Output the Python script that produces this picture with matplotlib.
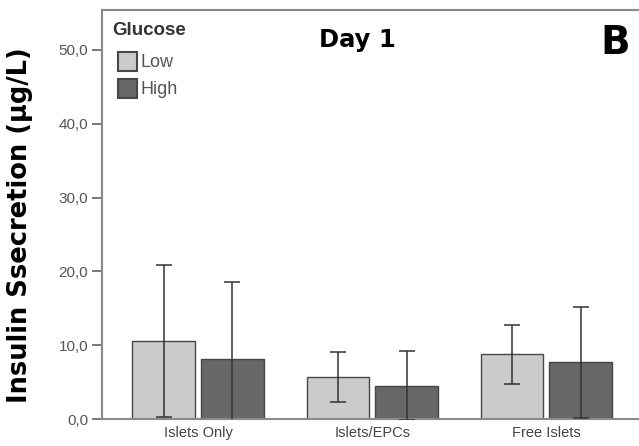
import numpy as np
import matplotlib
matplotlib.use("Agg")
import matplotlib.pyplot as plt
from matplotlib.patches import Rectangle

# data
groups = ["Islets Only", "Islets/EPCs", "Free Islets"]
low_mean = [10.6, 5.7, 8.8]
low_err = [10.3, 3.4, 4.0]
high_mean = [8.1, 4.5, 7.7]
high_err = [10.5, 4.7, 7.5]
yticks = [0, 10, 20, 30, 40, 50]
ytick_labels = ["0,0", "10,0", "20,0", "30,0", "40,0", "50,0"]
legend_labels = ["Low", "High"]

plt.rcParams['font.family'] = ['Liberation Sans', 'DejaVu Sans']

low_col = "#cbcbcb"
high_col = "#676767"
edge_col = "#474747"

fig = plt.figure(figsize=(6.39, 4.46), dpi=100)
ax = fig.add_axes([0.16, 0.0605, 0.845, 0.917])

x = np.arange(len(groups))
w = 0.36
off = 0.197
ax.bar(x - off, low_mean, w, color=low_col, edgecolor=edge_col, linewidth=1.0, zorder=2)
ax.bar(x + off, high_mean, w, color=high_col, edgecolor=edge_col, linewidth=1.0, zorder=2)
ax.errorbar(x - off, low_mean, yerr=low_err, fmt='none', ecolor="#333333",
            elinewidth=1.1, capsize=6, capthick=1.1, zorder=3)
ax.errorbar(x + off, high_mean, yerr=high_err, fmt='none', ecolor="#333333",
            elinewidth=1.1, capsize=6, capthick=1.1, zorder=3)

ax.set_xlim(-0.55, 2.55)
ax.set_ylim(0, 55.4)
ax.set_yticks(yticks)
ax.set_yticklabels(ytick_labels, fontsize=11, color="#555555")
ax.set_xticks(x)
ax.set_xticklabels(groups, fontsize=10.5, color="#444444")
ax.tick_params(axis='x', length=0, pad=5)
ax.tick_params(axis='y', length=7, width=1.4, color="#777777", pad=3)

for s in ['left', 'top', 'bottom']:
    ax.spines[s].set_color("#8a8a8a")
    ax.spines[s].set_linewidth(1.5)
ax.spines['right'].set_visible(False)

ax.set_ylabel("Insulin Ssecretion (µg/L)", fontsize=18.5, fontweight='bold',
              family='DejaVu Sans')
ax.yaxis.set_label_coords(-0.128, 0.474)

ax.text(0.472, 0.927, "Day 1", transform=ax.transAxes, fontsize=17.5,
        fontweight='bold', family='DejaVu Sans', ha='center', va='center')
ax.text(0.95, 0.919, "B", transform=ax.transAxes, fontsize=28,
        fontweight='bold', family='DejaVu Sans', ha='center', va='center')

# legend drawn by hand to match the indented SPSS layout
ax.text(0.0185, 0.949, "Glucose", transform=ax.transAxes, fontsize=13.5,
        fontweight='bold', color="#333333", ha='left', va='center')
for i, (lab, col) in enumerate(zip(legend_labels, [low_col, high_col])):
    y0 = 0.851 - i * 0.066
    ax.add_patch(Rectangle((0.0296, y0), 0.0352, 0.046, transform=ax.transAxes,
                           facecolor=col, edgecolor=edge_col, linewidth=1.5,
                           clip_on=False, zorder=4))
    ax.text(0.070, y0 + 0.021, lab, transform=ax.transAxes, fontsize=13,
            color="#555555", ha='left', va='center')

fig.savefig("out.png", dpi=100)
